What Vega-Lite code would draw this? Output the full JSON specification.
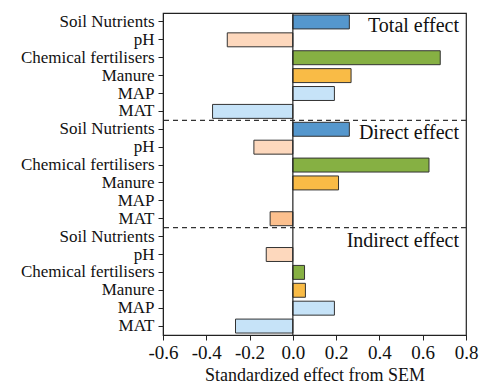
{
  "$schema": "https://vega.github.io/schema/vega-lite/v6.json",
  "width": 303,
  "height": 322,
  "autosize": "none",
  "padding": {"left": 163, "top": 13, "right": 13, "bottom": 51},
  "background": "white",
  "config": {
    "font": "Liberation Serif",
    "view": {"stroke": "#222", "strokeWidth": 1.2},
    "axis": {"grid": false, "domainColor": "#222", "tickColor": "#222", "labelColor": "#111", "titleColor": "#111"}
  },
  "datasets": {
    "bars": [
      {"effect": "Total", "var": "Soil Nutrients", "row": "Total|Soil Nutrients", "value": 0.261},
      {"effect": "Total", "var": "pH", "row": "Total|pH", "value": -0.303},
      {"effect": "Total", "var": "Chemical fertilisers", "row": "Total|Chemical fertilisers", "value": 0.681},
      {"effect": "Total", "var": "Manure", "row": "Total|Manure", "value": 0.269},
      {"effect": "Total", "var": "MAP", "row": "Total|MAP", "value": 0.192},
      {"effect": "Total", "var": "MAT", "row": "Total|MAT", "value": -0.371},
      {"effect": "Direct", "var": "Soil Nutrients", "row": "Direct|Soil Nutrients", "value": 0.261},
      {"effect": "Direct", "var": "pH", "row": "Direct|pH", "value": -0.18},
      {"effect": "Direct", "var": "Chemical fertilisers", "row": "Direct|Chemical fertilisers", "value": 0.629},
      {"effect": "Direct", "var": "Manure", "row": "Direct|Manure", "value": 0.211},
      {"effect": "Direct", "var": "MAP", "row": "Direct|MAP", "value": 0},
      {"effect": "Direct", "var": "MAT", "row": "Direct|MAT", "value": -0.105},
      {"effect": "Indirect", "var": "Soil Nutrients", "row": "Indirect|Soil Nutrients", "value": 0},
      {"effect": "Indirect", "var": "pH", "row": "Indirect|pH", "value": -0.123},
      {"effect": "Indirect", "var": "Chemical fertilisers", "row": "Indirect|Chemical fertilisers", "value": 0.054},
      {"effect": "Indirect", "var": "Manure", "row": "Indirect|Manure", "value": 0.058},
      {"effect": "Indirect", "var": "MAP", "row": "Indirect|MAP", "value": 0.192},
      {"effect": "Indirect", "var": "MAT", "row": "Indirect|MAT", "value": -0.265}
    ],
    "labels": [
      {"label": "Total effect", "row": "Total|Soil Nutrients"},
      {"label": "Direct effect", "row": "Direct|Soil Nutrients"},
      {"label": "Indirect effect", "row": "Indirect|Soil Nutrients"}
    ],
    "seps": [
      {"row": "Total|MAT"},
      {"row": "Direct|MAT"}
    ]
  },
  "layer": [
    {
      "data": {"name": "bars"},
      "transform": [{"filter": "datum.value != 0"}],
      "mark": {"type": "bar", "height": {"band": 0.78}, "stroke": "#333", "strokeWidth": 1},
      "encoding": {
        "y": {
          "field": "row", "type": "nominal", "sort": null,
          "scale": {"domain": ["Total|Soil Nutrients","Total|pH","Total|Chemical fertilisers","Total|Manure","Total|MAP","Total|MAT","Direct|Soil Nutrients","Direct|pH","Direct|Chemical fertilisers","Direct|Manure","Direct|MAP","Direct|MAT","Indirect|Soil Nutrients","Indirect|pH","Indirect|Chemical fertilisers","Indirect|Manure","Indirect|MAP","Indirect|MAT"], "paddingInner": 0, "paddingOuter": 0},
          "axis": {"title": null, "labelExpr": "split(datum.value, '|')[1]", "labelFont": "Liberation Serif", "labelFontSize": 17, "tickSize": 5, "labelPadding": 4}
        },
        "x": {
          "field": "value", "type": "quantitative",
          "scale": {"domain": [-0.6, 0.8], "nice": false, "zero": false},
          "axis": {"title": "Standardized effect from SEM", "values": [-0.6,-0.4,-0.2,0,0.2,0.4,0.6,0.8], "labelExpr": "datum.value < 0 ? '-' + format(-datum.value, '.1f') : format(datum.value, '.1f')", "labelFont": "Liberation Serif", "titleFont": "Liberation Serif", "labelFontSize": 19, "titleFontSize": 18, "titleFontWeight": "normal", "tickSize": 5, "labelPadding": 3, "titlePadding": 4, "labelFlush": false}
        },
        "color": {
          "condition": {"test": "datum.effect === 'Direct' && datum.var === 'MAT'", "value": "#fcc08e"},
          "field": "var", "type": "nominal", "legend": null,
          "scale": {"domain": ["Soil Nutrients","pH","Chemical fertilisers","Manure","MAP","MAT"], "range": ["#5597cd","#fdd8bd","#86b043","#f9bb46","#c6e3f8","#c6e3f8"]}
        }
      }
    },
    {
      "data": {"name": "seps"},
      "mark": {"type": "rule", "strokeDash": [5, 4], "color": "#333", "strokeWidth": 1.2},
      "encoding": {
        "y": {"field": "row", "type": "nominal", "bandPosition": 1}
      }
    },
    {
      "data": {"values": [{}]},
      "mark": {"type": "rule", "color": "#222", "strokeWidth": 1.2},
      "encoding": {"x": {"datum": 0}}
    },
    {
      "data": {"name": "labels"},
      "mark": {"type": "text", "align": "right", "baseline": "middle", "fontSize": 20, "dx": -7, "dy": 4, "color": "#111", "font": "Liberation Serif"},
      "encoding": {
        "y": {"field": "row", "type": "nominal"},
        "x": {"datum": 0.8},
        "text": {"field": "label"}
      }
    }
  ]
}
